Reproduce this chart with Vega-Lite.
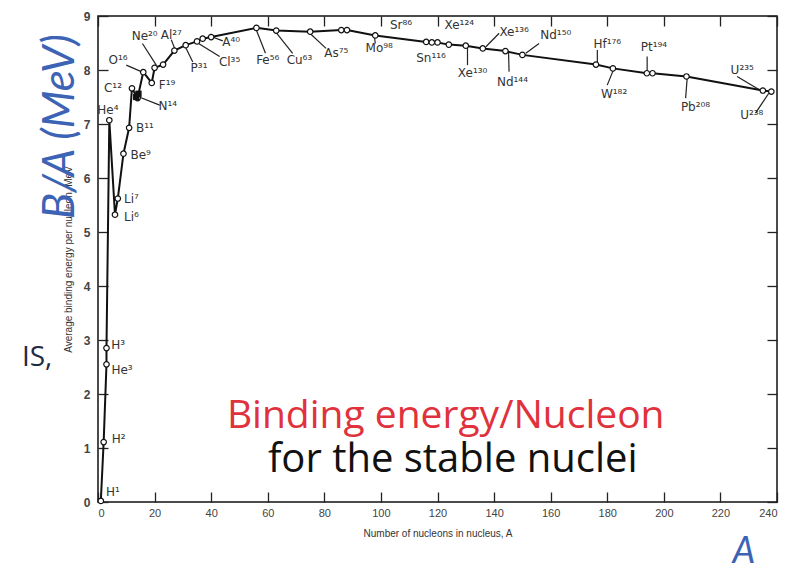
{
  "$schema": "https://vega.github.io/schema/vega-lite/v6.json",
  "width": 679,
  "height": 486,
  "autosize": "none",
  "padding": {"left": 98, "top": 16, "right": 13, "bottom": 69},
  "background": "white",
  "config": {
    "view": {"stroke": "#111", "strokeWidth": 1.5},
    "axis": {"grid": false, "domain": false, "tickColor": "#222", "tickWidth": 1.3, "labelFont": "Liberation Sans", "labelColor": "#444", "titleFont": "Liberation Sans", "titleColor": "#333", "titleFontWeight": "normal"}
  },
  "datasets": {
    "pts": [
      {"A": 1, "BA": 0.02}, {"A": 2, "BA": 1.11}, {"A": 3, "BA": 2.55}, {"A": 3, "BA": 2.85},
      {"A": 4, "BA": 7.07}, {"A": 6, "BA": 5.32}, {"A": 7, "BA": 5.62}, {"A": 9, "BA": 6.45},
      {"A": 11, "BA": 6.93}, {"A": 12, "BA": 7.66}, {"A": 14, "BA": 7.48}, {"A": 16, "BA": 7.96},
      {"A": 19, "BA": 7.76}, {"A": 20, "BA": 8.04}, {"A": 23, "BA": 8.1}, {"A": 27, "BA": 8.36},
      {"A": 31, "BA": 8.46}, {"A": 35, "BA": 8.53}, {"A": 37, "BA": 8.58}, {"A": 40, "BA": 8.61},
      {"A": 56, "BA": 8.78}, {"A": 63, "BA": 8.73}, {"A": 75, "BA": 8.71}, {"A": 86, "BA": 8.74},
      {"A": 88, "BA": 8.74}, {"A": 98, "BA": 8.64}, {"A": 116, "BA": 8.52}, {"A": 118, "BA": 8.51},
      {"A": 120, "BA": 8.51}, {"A": 124, "BA": 8.47}, {"A": 130, "BA": 8.45}, {"A": 136, "BA": 8.4},
      {"A": 144, "BA": 8.35}, {"A": 150, "BA": 8.28}, {"A": 176, "BA": 8.1}, {"A": 182, "BA": 8.03},
      {"A": 194, "BA": 7.94}, {"A": 196, "BA": 7.94}, {"A": 208, "BA": 7.88}, {"A": 235, "BA": 7.62},
      {"A": 238, "BA": 7.6}
    ],
    "squares": [{"A": 13.5, "BA": 7.5}, {"A": 14.3, "BA": 7.56}],
    "labels": [
      {"lab": "H¹", "A": 5.3, "BA": 0.18}, {"lab": "H²", "A": 7.3, "BA": 1.17},
      {"lab": "He³", "A": 8.5, "BA": 2.44}, {"lab": "H³", "A": 7.1, "BA": 2.9},
      {"lab": "He⁴", "A": 3.5, "BA": 7.26}, {"lab": "Li⁶", "A": 11.8, "BA": 5.28},
      {"lab": "Li⁷", "A": 11.8, "BA": 5.62}, {"lab": "Be⁹", "A": 15.1, "BA": 6.43},
      {"lab": "B¹¹", "A": 16.6, "BA": 6.92}, {"lab": "C¹²", "A": 5.3, "BA": 7.66},
      {"lab": "N¹⁴", "A": 24.7, "BA": 7.33}, {"lab": "O¹⁶", "A": 7.1, "BA": 8.19},
      {"lab": "F¹⁹", "A": 24.4, "BA": 7.72}, {"lab": "Ne²⁰", "A": 16.5, "BA": 8.63},
      {"lab": "Al²⁷", "A": 25.9, "BA": 8.65}, {"lab": "P³¹", "A": 35.7, "BA": 8.03},
      {"lab": "Cl³⁵", "A": 46.5, "BA": 8.15}, {"lab": "A⁴⁰", "A": 47.1, "BA": 8.52},
      {"lab": "Fe⁵⁶", "A": 60, "BA": 8.19}, {"lab": "Cu⁶³", "A": 71.2, "BA": 8.19},
      {"lab": "As⁷⁵", "A": 84.2, "BA": 8.31}, {"lab": "Sr⁸⁶", "A": 107.1, "BA": 8.83},
      {"lab": "Mo⁹⁸", "A": 99.4, "BA": 8.4}, {"lab": "Sn¹¹⁶", "A": 117.7, "BA": 8.22},
      {"lab": "Xe¹²⁴", "A": 127.7, "BA": 8.83}, {"lab": "Xe¹³⁰", "A": 132.4, "BA": 7.94},
      {"lab": "Xe¹³⁶", "A": 147.1, "BA": 8.71}, {"lab": "Nd¹⁴⁴", "A": 146.5, "BA": 7.78},
      {"lab": "Nd¹⁵⁰", "A": 161.8, "BA": 8.65}, {"lab": "Hf¹⁷⁶", "A": 180, "BA": 8.49},
      {"lab": "W¹⁸²", "A": 182.4, "BA": 7.56}, {"lab": "Pt¹⁹⁴", "A": 196.5, "BA": 8.43},
      {"lab": "Pb²⁰⁸", "A": 211.2, "BA": 7.32}, {"lab": "U²³⁵", "A": 227.7, "BA": 8.0},
      {"lab": "U²³⁸", "A": 231.1, "BA": 7.17}
    ],
    "leaders": [
      {"A": 10.0, "BA": 8.09, "A2": 15.3, "BA2": 7.97},
      {"A": 15.7, "BA": 8.49, "A2": 20.6, "BA2": 8.09},
      {"A": 25.9, "BA": 8.56, "A2": 27.1, "BA2": 8.4},
      {"A": 33.5, "BA": 8.15, "A2": 30.6, "BA2": 8.46},
      {"A": 43.0, "BA": 8.25, "A2": 34.7, "BA2": 8.52},
      {"A": 44.1, "BA": 8.54, "A2": 40.0, "BA2": 8.62},
      {"A": 59.2, "BA": 8.31, "A2": 55.9, "BA2": 8.75},
      {"A": 68.8, "BA": 8.31, "A2": 62.7, "BA2": 8.71},
      {"A": 21.8, "BA": 7.35, "A2": 14.1, "BA2": 7.51},
      {"A": 80.6, "BA": 8.4, "A2": 74.7, "BA2": 8.69},
      {"A": 98.0, "BA": 8.49, "A2": 97.7, "BA2": 8.62},
      {"A": 130.6, "BA": 8.43, "A2": 130.6, "BA2": 8.09},
      {"A": 141.8, "BA": 8.68, "A2": 137.1, "BA2": 8.43},
      {"A": 145.1, "BA": 8.34, "A2": 145.3, "BA2": 7.97},
      {"A": 155.9, "BA": 8.49, "A2": 151.2, "BA2": 8.31},
      {"A": 176.5, "BA": 8.37, "A2": 176.5, "BA2": 8.14},
      {"A": 180.0, "BA": 7.72, "A2": 182.4, "BA2": 8.03},
      {"A": 194.1, "BA": 8.25, "A2": 194.1, "BA2": 7.97},
      {"A": 208.3, "BA": 7.88, "A2": 207.7, "BA2": 7.48},
      {"A": 225.9, "BA": 7.88, "A2": 233.6, "BA2": 7.64},
      {"A": 232.4, "BA": 7.2, "A2": 237.1, "BA2": 7.57}
    ],
    "ba": [{"A": -13.2, "BA": 6.95, "t": "B/A (MeV)"}],
    "isx": [{"A": -26.9, "BA": 2.66, "t": "IS,"}],
    "red": [{"A": 122.9, "BA": 1.37, "t": "Binding energy/Nucleon"}],
    "blk": [{"A": 125.4, "BA": 0.556, "t": "for the stable nuclei"}],
    "aa": [{"A": 228.3, "BA": -0.92, "t": "A"}]
  },
  "encoding": {
    "x": {"field": "A", "type": "quantitative", "scale": {"domain": [0, 240], "nice": false, "zero": false}, "axis": null},
    "y": {"field": "BA", "type": "quantitative", "scale": {"domain": [0, 9], "nice": false, "zero": false}, "axis": null}
  },
  "layer": [
    {
      "data": {"name": "leaders"},
      "mark": {"type": "rule", "color": "#222", "strokeWidth": 1.2},
      "encoding": {"x2": {"field": "A2"}, "y2": {"field": "BA2"}}
    },
    {
      "data": {"name": "pts"},
      "mark": {"type": "line", "color": "#111", "strokeWidth": 2},
      "encoding": {
        "x": {"field": "A", "type": "quantitative", "scale": {"domain": [0, 240], "nice": false, "zero": false},
          "axis": {"orient": "bottom", "values": [0, 20, 40, 60, 80, 100, 120, 140, 160, 180, 200, 220, 240], "tickSize": -10, "labelPadding": 15, "labelFontSize": 11, "title": "Number of nucleons in nucleus, A", "titleFontSize": 10, "titlePadding": 10}},
        "y": {"field": "BA", "type": "quantitative", "scale": {"domain": [0, 9], "nice": false, "zero": false},
          "axis": {"orient": "left", "values": [0, 1, 2, 3, 4, 5, 6, 7, 8, 9], "tickSize": -10, "labelPadding": 18, "labelFontSize": 12, "labelFontWeight": "bold", "title": "Average binding energy per nucleon, MeV", "titleFontSize": 10, "titlePadding": 10}}
      }
    },
    {
      "data": {"name": "pts"},
      "mark": {"type": "point", "shape": "circle", "filled": true, "fill": "white", "stroke": "#111", "strokeWidth": 1.2, "size": 30, "opacity": 1},
      "encoding": {
        "x": {"field": "A", "type": "quantitative", "scale": {"domain": [0, 240], "nice": false, "zero": false},
          "axis": {"orient": "top", "values": [0, 20, 40, 60, 80, 100, 120, 140, 160, 180, 200, 220, 240], "tickSize": -10, "labels": false, "title": null}},
        "y": {"field": "BA", "type": "quantitative", "scale": {"domain": [0, 9], "nice": false, "zero": false},
          "axis": {"orient": "right", "values": [0, 1, 2, 3, 4, 5, 6, 7, 8, 9], "tickSize": -10, "labels": false, "title": null}}
      }
    },
    {
      "data": {"name": "squares"},
      "mark": {"type": "point", "shape": "square", "filled": true, "color": "#111", "size": 40, "opacity": 1}
    },
    {
      "data": {"name": "labels"},
      "mark": {"type": "text", "font": "DejaVu Sans", "fontSize": 12, "color": "#333", "align": "center", "baseline": "middle"},
      "encoding": {"text": {"field": "lab"}}
    },
    {
      "data": {"name": "ba"},
      "mark": {"type": "text", "font": "Lato", "fontStyle": "italic", "fontSize": 44, "color": "#3d63b5", "angle": 270, "align": "center", "baseline": "middle"},
      "encoding": {"text": {"field": "t"}}
    },
    {
      "data": {"name": "isx"},
      "mark": {"type": "text", "font": "Open Sans", "fontSize": 28, "color": "#1f2a44", "align": "left", "baseline": "middle"},
      "encoding": {"text": {"field": "t"}}
    },
    {
      "data": {"name": "red"},
      "mark": {"type": "text", "font": "Open Sans", "fontSize": 39, "color": "#e0323c", "align": "center", "baseline": "alphabetic"},
      "encoding": {"text": {"field": "t"}}
    },
    {
      "data": {"name": "blk"},
      "mark": {"type": "text", "font": "Open Sans", "fontSize": 40, "color": "#111", "align": "center", "baseline": "alphabetic"},
      "encoding": {"text": {"field": "t"}}
    },
    {
      "data": {"name": "aa"},
      "mark": {"type": "text", "font": "Lato", "fontStyle": "italic", "fontSize": 36, "color": "#3d63b5", "align": "center", "baseline": "middle"},
      "encoding": {"text": {"field": "t"}}
    }
  ]
}
